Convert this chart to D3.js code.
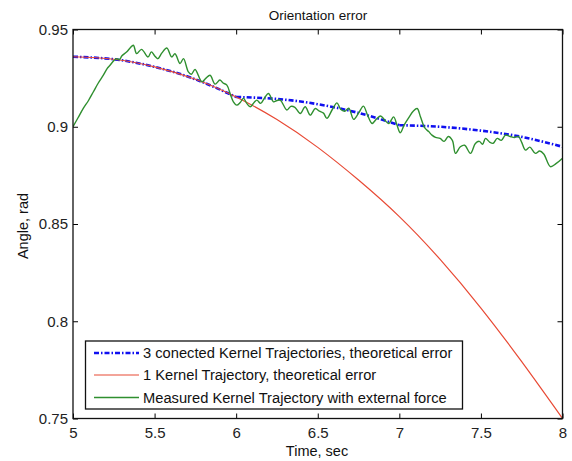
<!DOCTYPE html>
<html><head><meta charset="utf-8">
<script src="https://cdn.jsdelivr.net/npm/d3@7/dist/d3.min.js"></script>
<style>body{margin:0;background:#fff}svg{display:block}text{font-family:"Liberation Sans",Arial,sans-serif}</style>
</head><body>
<script>
const timeTheory = [5, 5.25, 5.5, 5.75, 6, 6.25, 6.5, 6.75, 7, 7.25, 7.5, 7.75, 8];
const oneKernel = [0.936, 0.9347, 0.9308, 0.9244, 0.9153, 0.9037, 0.8894, 0.8726, 0.8538, 0.8318, 0.8068, 0.7792, 0.750];
const threeKernel1 = [0.936, 0.9347, 0.9308, 0.9244, 0.9153];
const threeKernel2 = [0.9153, 0.9143, 0.9116, 0.9071, 0.9008];
const threeKernel3 = [0.9008, 0.9000, 0.8980, 0.8948, 0.8897];
const measuredTime = [5.000,5.030,5.063,5.095,5.125,5.155,5.186,5.210,5.227,5.250,5.268,5.285,5.300,5.330,5.350,5.370,5.390,5.420,5.460,5.480,5.500,5.520,5.545,5.575,5.605,5.625,5.656,5.677,5.707,5.725,5.748,5.790,5.815,5.840,5.871,5.900,5.920,5.943,5.965,5.983,6.004,6.025,6.045,6.065,6.086,6.110,6.127,6.150,6.175,6.198,6.229,6.250,6.270,6.311,6.335,6.360,6.393,6.423,6.454,6.485,6.510,6.535,6.556,6.590,6.618,6.640,6.665,6.690,6.720,6.750,6.780,6.805,6.833,6.860,6.885,6.910,6.935,6.965,6.985,7.006,7.030,7.060,7.085,7.109,7.130,7.155,7.180,7.200,7.222,7.250,7.275,7.300,7.325,7.344,7.374,7.400,7.436,7.466,7.490,7.510,7.528,7.555,7.575,7.600,7.625,7.650,7.680,7.705,7.730,7.750,7.773,7.800,7.834,7.860,7.885,7.926,7.960,8.000];
const measuredVals = [0.900,0.9045,0.9094,0.9135,0.918,0.9225,0.9265,0.9300,0.9316,0.9340,0.9350,0.9345,0.9365,0.9385,0.9405,0.9419,0.9376,0.9398,0.9359,0.9385,0.9365,0.9350,0.9380,0.9405,0.9359,0.9375,0.9325,0.9350,0.9282,0.9270,0.9294,0.9231,0.9250,0.9265,0.9219,0.9240,0.9225,0.9214,0.9165,0.9128,0.9111,0.9125,0.9146,0.9120,0.9103,0.9125,0.9137,0.9120,0.9150,0.9171,0.9128,0.9135,0.9137,0.9086,0.9105,0.9100,0.9068,0.9103,0.9060,0.9094,0.9080,0.9070,0.9043,0.9090,0.9123,0.9090,0.9080,0.9095,0.9038,0.9070,0.9106,0.9060,0.9017,0.9040,0.9055,0.9035,0.9017,0.9051,0.9010,0.8969,0.9010,0.9050,0.9080,0.9094,0.9050,0.8995,0.8975,0.8957,0.8945,0.8940,0.8925,0.8950,0.8930,0.8863,0.8897,0.8905,0.8863,0.8914,0.8925,0.8910,0.8940,0.8920,0.8915,0.8940,0.8930,0.8957,0.8950,0.8945,0.8950,0.8920,0.8880,0.8895,0.8863,0.8875,0.8860,0.8795,0.8810,0.8838];
const xTicks = [5, 5.5, 6, 6.5, 7, 7.5, 8];
const xTickLabels = ["5", "5.5", "6", "6.5", "7", "7.5", "8"];
const yTicks = [0.75, 0.8, 0.85, 0.9, 0.95];
const yTickLabels = ["0.75", "0.8", "0.85", "0.9", "0.95"];
const seriesNames = ["3 conected Kernel Trajectories, theoretical error", "1 Kernel Trajectory, theoretical error", "Measured Kernel Trajectory with external force"];

const W = 572, H = 461;
const L = 73, R = 562.5, T = 29.5, B = 418.5;
const svg = d3.select("body").append("svg").attr("width", W).attr("height", H);
const x = d3.scaleLinear().domain([5, 8]).range([L, R]);
const y = d3.scaleLinear().domain([0.75, 0.95]).range([B, T]);

svg.append("defs").append("clipPath").attr("id", "clip")
  .append("rect").attr("x", L).attr("y", T).attr("width", R - L).attr("height", B - T);

const g = svg.append("g").attr("clip-path", "url(#clip)");
const smooth = d3.line().x(d => x(d[0])).y(d => y(d[1])).curve(d3.curveNatural);
const blueStyle = {color: "#1010f0", width: 2.6, dash: "5,2,1.5,2"};
const redStyle = {color: "#e84a35", width: 1.2, dash: null};
const greenStyle = {color: "#2f8f2f", width: 1.4, dash: null};

// three connected segments: 5-6, 6-7, 7-8
const segTimes = [timeTheory.slice(0, 5), timeTheory.slice(4, 9), timeTheory.slice(8, 13)];
const segVals = [threeKernel1, threeKernel2, threeKernel3];
const bluePaths = segTimes.map((ts, s) => smooth(ts.map((t, i) => [t, segVals[s][i]])));
g.append("path")
  .attr("d", bluePaths.join(""))
  .attr("fill", "none").attr("stroke", blueStyle.color)
  .attr("stroke-width", blueStyle.width).attr("stroke-dasharray", blueStyle.dash);
g.append("path").datum(timeTheory.map((t, i) => [t, oneKernel[i]]))
  .attr("d", smooth).attr("fill", "none").attr("stroke", redStyle.color)
  .attr("stroke-width", redStyle.width);
g.append("path").datum(measuredTime.map((t, i) => [t, measuredVals[i]]))
  .attr("d", d3.line().x(d => x(d[0])).y(d => y(d[1])).curve(d3.curveCatmullRom))
  .attr("fill", "none").attr("stroke", greenStyle.color)
  .attr("stroke-width", greenStyle.width).attr("stroke-linejoin", "round");

// axes
const fmtX = d => xTickLabels[xTicks.indexOf(d)];
const fmtY = d => yTickLabels[yTicks.indexOf(d)];
const axB = svg.append("g").attr("transform", `translate(0,${B})`)
  .call(d3.axisBottom(x).tickValues(xTicks).tickFormat(fmtX).tickSize(-5).tickPadding(9));
const axT = svg.append("g").attr("transform", `translate(0,${T})`)
  .call(d3.axisTop(x).tickValues(xTicks).tickFormat("").tickSize(-5));
const axL = svg.append("g").attr("transform", `translate(${L},0)`)
  .call(d3.axisLeft(y).tickValues(yTicks).tickFormat(fmtY).tickSize(-5).tickPadding(5));
const axR = svg.append("g").attr("transform", `translate(${R},0)`)
  .call(d3.axisRight(y).tickValues(yTicks).tickFormat("").tickSize(-5));
[axB, axT, axL, axR].forEach(a => {
  a.select(".domain").remove();
  a.selectAll("line").attr("stroke", "#000").attr("stroke-width", 1);
  a.selectAll("text").attr("fill", "#222").style("font-size", "15px").style("font-family", '"Liberation Sans", Arial, sans-serif');
});
svg.append("rect").attr("x", L).attr("y", T).attr("width", R - L).attr("height", B - T)
  .attr("fill", "none").attr("stroke", "#111").attr("stroke-width", 1.3);

// labels
svg.append("text").attr("x", 318).attr("y", 20).attr("text-anchor", "middle")
  .style("font-size", "13.5px").attr("fill", "#111").text("Orientation error");
svg.append("text").attr("x", 317).attr("y", 456).attr("text-anchor", "middle")
  .style("font-size", "14.5px").attr("fill", "#111").text("Time, sec");
svg.append("text").attr("transform", `translate(28,${(T + B) / 2 + 2}) rotate(-90)`).attr("text-anchor", "middle")
  .style("font-size", "14.5px").attr("fill", "#111").text("Angle, rad");

// legend
const lg = svg.append("g");
lg.append("rect").attr("x", 85.5).attr("y", 341).attr("width", 377).attr("height", 68)
  .attr("fill", "#fff").attr("stroke", "#111").attr("stroke-width", 1.3);
const styles = [blueStyle, redStyle, greenStyle];
const rowY = [353, 375, 397.5];
seriesNames.forEach((name, i) => {
  lg.append("line").attr("x1", 94).attr("x2", 139).attr("y1", rowY[i]).attr("y2", rowY[i])
    .attr("stroke", styles[i].color).attr("stroke-width", styles[i].width)
    .attr("stroke-dasharray", styles[i].dash);
  lg.append("text").attr("x", 143).attr("y", rowY[i]).attr("dy", "0.36em")
    .style("font-size", "14.7px").attr("fill", "#111").text(name);
});
</script>
</body></html>
